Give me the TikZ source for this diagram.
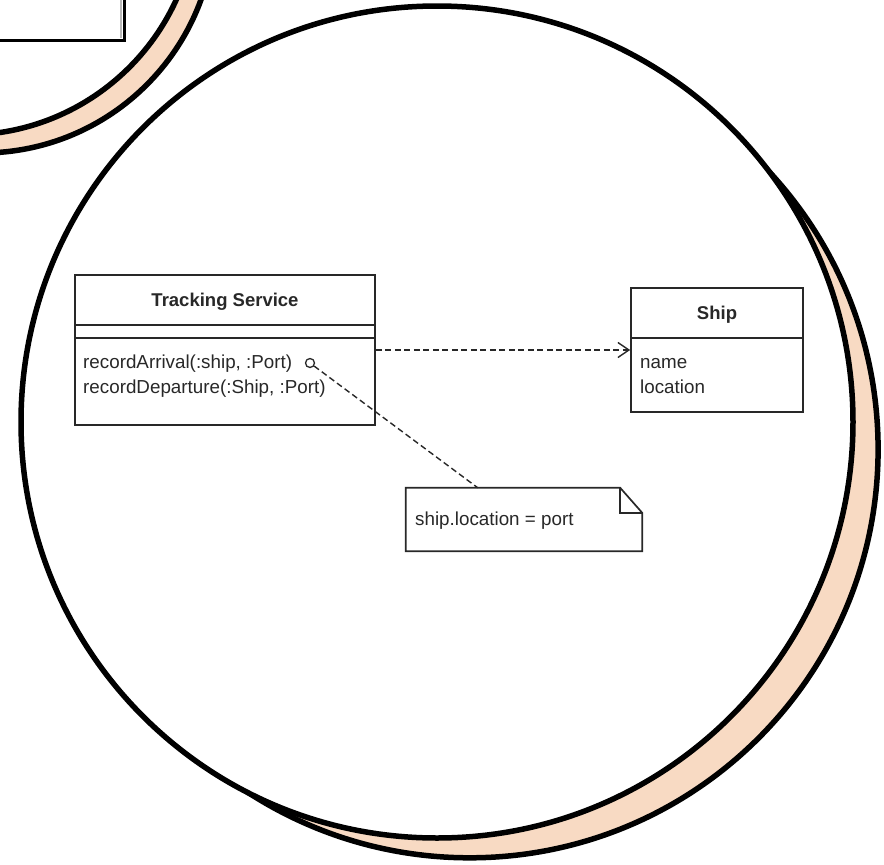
\documentclass[tikz,border=0pt]{standalone}
\usepackage{fontspec}
\setmainfont{Liberation Sans}
\usetikzlibrary{arrows.meta}
\definecolor{peach}{RGB}{248,218,195}
\definecolor{ink}{RGB}{40,40,40}
\begin{document}
\begin{tikzpicture}[x=1pt,y=-1pt,
  ring/.style={draw=black,line width=5.5pt},
  umlbox/.style={draw=ink,line width=1.7pt,inner sep=0pt},
  txt/.style={text=ink,font=\fontsize{18.8}{22}\selectfont,inner sep=0pt},
  ttl/.style={text=ink,font=\fontsize{18.5}{22}\selectfont\bfseries,inner sep=0pt},
  dep/.style={draw=ink,line width=1.4pt,dash pattern=on 6pt off 3.5pt}]
\useasboundingbox (0,0) rectangle (884,865);
\clip (0,0) rectangle (884,865);
% top-left magnifier (cut off)
\draw[ring,fill=peach] (-18,-80) circle[radius=233pt];
\draw[ring,fill=white] (-34,-96) circle[radius=231pt];
\draw[gray!55,line width=2pt] (120.5,-10) -- (120.5,38);
\draw[black,line width=3pt] (-10,40) -- (124,40) -- (124,-10);
% main magnifier
\draw[ring,fill=peach] (469.7,449.4) circle[radius=408.4pt];
\draw[ring,fill=white] (437,422) circle[radius=416pt];
% Tracking Service class
\node (ts) [umlbox,minimum width=300pt,minimum height=150pt] at (225,350) {};
\draw[ink,line width=1.7pt] (ts.west |- 0,325) -- (ts.east |- 0,325);
\draw[ink,line width=1.7pt] (ts.west |- 0,338) -- (ts.east |- 0,338);
\node (tstitle) [ttl,anchor=base] at (225,306) {Tracking Service};
\node (op1) [txt,anchor=base west] at (83,368) {recordArrival(:ship, :Port)};
\node (op2) [txt,anchor=base west] at (83,393) {recordDeparture(:Ship, :Port)};
% Ship class
\node (ship) [umlbox,minimum width=172pt,minimum height=124pt] at (717,350) {};
\draw[ink,line width=1.7pt] (ship.west |- 0,338) -- (ship.east |- 0,338);
\node (shiptitle) [ttl,anchor=base] at (717,319) {Ship};
\node (at1) [txt,anchor=base west] at (640,368) {name};
\node (at2) [txt,anchor=base west] at (640,393) {location};
% note
\node (note) [minimum width=236pt,minimum height=63pt,inner sep=0pt] at (524,519.5) {};
\draw[ink,line width=1.7pt,fill=white] (note.south west) -- (note.north west)
  -- ([xshift=-22pt]note.north east) -- ([yshift=-25pt]note.north east)
  -- (note.south east) -- cycle;
\draw[ink,line width=1.7pt] ([xshift=-22pt]note.north east) |- ([yshift=-25pt]note.north east);
\node (notetext) [txt,anchor=base west] at (415,525) {ship.location = port};
% pin on operation
\node (pin) [circle,draw=ink,line width=1.3pt,minimum size=9pt,inner sep=0pt] at (310,363) {};
% connectors
\draw[dep] (pin) -- ([xshift=72pt]note.north west);
\draw[dep,-{Straight Barb[length=11pt,width=15pt]}] (ts.east) -- (ship.west);
\end{tikzpicture}
\end{document}
